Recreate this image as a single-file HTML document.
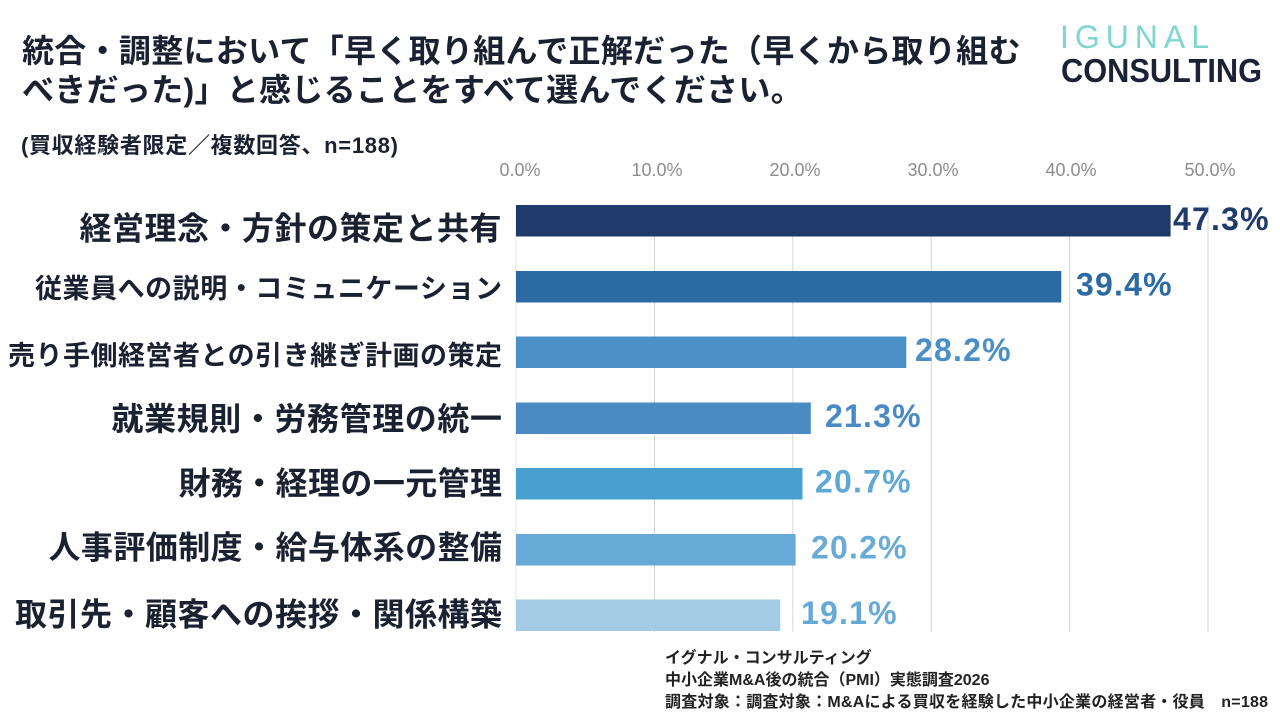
<!DOCTYPE html>
<html lang="ja">
<head>
<meta charset="utf-8">
<style>
  html, body { margin: 0; padding: 0; background: #ffffff; }
  body { width: 1280px; height: 719px; overflow: hidden; }
  svg { display: block; }
  .jp { font-family: "Liberation Sans", "Noto Sans CJK JP", sans-serif; }
  .lat { font-family: "Liberation Sans", sans-serif; }
</style>
</head>
<body>
<svg width="1280" height="719" viewBox="0 0 1280 719" xmlns="http://www.w3.org/2000/svg">
  <rect x="0" y="0" width="1280" height="719" fill="#ffffff"/>

  <!-- Title -->
  <text class="jp" x="22" y="62" font-size="32" font-weight="700" fill="#1a2130" letter-spacing="0.3">統合・調整において「早く取り組んで正解だった（早くから取り組む</text>
  <text class="jp" x="22" y="101" font-size="32" font-weight="700" fill="#1a2130" letter-spacing="0.3">べきだった)」と感じることをすべて選んでください。</text>

  <!-- Subtitle -->
  <text class="jp" x="21" y="153" font-size="22" font-weight="700" fill="#1a2130" textLength="377" lengthAdjust="spacing">(買収経験者限定／複数回答、n=188)</text>

  <!-- Logo -->
  <text class="lat" x="1060" y="48" font-size="32" font-weight="400" fill="#7fd6d1" textLength="149" lengthAdjust="spacing">IGUNAL</text>
  <text class="lat" x="1061" y="82" font-size="33.5" font-weight="700" fill="#1b2233" textLength="201" lengthAdjust="spacingAndGlyphs">CONSULTING</text>

  <!-- Tick labels -->
  <g class="lat" font-size="18" fill="#8c8c8c" text-anchor="middle">
    <text x="520" y="176">0.0%</text>
    <text x="657" y="176">10.0%</text>
    <text x="795" y="176">20.0%</text>
    <text x="933" y="176">30.0%</text>
    <text x="1071" y="176">40.0%</text>
    <text x="1210" y="176">50.0%</text>
  </g>

  <!-- Gridlines -->
  <g stroke="#d6d6d6" stroke-width="1">
    <line x1="516" y1="205" x2="516" y2="632" stroke="#e4e4e4"/>
    <line x1="654.5" y1="205" x2="654.5" y2="632"/>
    <line x1="792.8" y1="205" x2="792.8" y2="632"/>
    <line x1="931.2" y1="205" x2="931.2" y2="632"/>
    <line x1="1069.6" y1="205" x2="1069.6" y2="632"/>
    <line x1="1208" y1="205" x2="1208" y2="632"/>
  </g>

  <!-- Bars -->
  <rect x="516" y="205" width="654.6" height="31.5" fill="#1f3b6b"/>
  <rect x="516" y="271" width="545.3" height="31.5" fill="#2c6aa3"/>
  <rect x="516" y="336.5" width="390.3" height="31.5" fill="#4a8fc6"/>
  <rect x="516" y="402.5" width="294.8" height="31.5" fill="#4b8bc4"/>
  <rect x="516" y="468" width="286.5" height="31.5" fill="#47a0d0"/>
  <rect x="516" y="534" width="279.6" height="31.5" fill="#66aad8"/>
  <rect x="516" y="599.5" width="264.3" height="31.5" fill="#a3cbe3"/>

  <!-- Value labels -->
  <g class="lat" font-size="32" font-weight="700" letter-spacing="1.2">
    <text x="1173" y="230" fill="#1f3b6b">47.3%</text>
    <text x="1076" y="295.5" fill="#2c6aa3">39.4%</text>
    <text x="915" y="361" fill="#4a8fc6">28.2%</text>
    <text x="825" y="427" fill="#4a8ac4">21.3%</text>
    <text x="815" y="492.5" fill="#5ea8d6">20.7%</text>
    <text x="811" y="558.5" fill="#6aaad8">20.2%</text>
    <text x="801" y="624" fill="#66a9d7">19.1%</text>
  </g>

  <!-- Category labels -->
  <g class="jp" font-weight="700" fill="#1a2130">
    <text x="79.5" y="239.3" font-size="32" textLength="422" lengthAdjust="spacing">経営理念・方針の策定と共有</text>
    <text x="35" y="298" font-size="27" textLength="467" lengthAdjust="spacing">従業員への説明・コミュニケーション</text>
    <text x="8" y="365" font-size="27" textLength="494" lengthAdjust="spacing">売り手側経営者との引き継ぎ計画の策定</text>
    <text x="111.5" y="430" font-size="32" textLength="390.5" lengthAdjust="spacing">就業規則・労務管理の統一</text>
    <text x="178.5" y="494.5" font-size="32" textLength="323.5" lengthAdjust="spacing">財務・経理の一元管理</text>
    <text x="48.5" y="558.5" font-size="32" textLength="453.5" lengthAdjust="spacing">人事評価制度・給与体系の整備</text>
    <text x="15" y="625.5" font-size="32" textLength="487" lengthAdjust="spacing">取引先・顧客への挨拶・関係構築</text>
  </g>

  <!-- Footer -->
  <g class="jp" font-size="16" font-weight="700" fill="#222222">
    <text x="665" y="663">イグナル・コンサルティング</text>
    <text x="665" y="685">中小企業M&amp;A後の統合（PMI）実態調査2026</text>
    <text x="665" y="707" textLength="603" lengthAdjust="spacing">調査対象：調査対象：M&amp;Aによる買収を経験した中小企業の経営者・役員　n=188</text>
  </g>
</svg>
</body>
</html>
